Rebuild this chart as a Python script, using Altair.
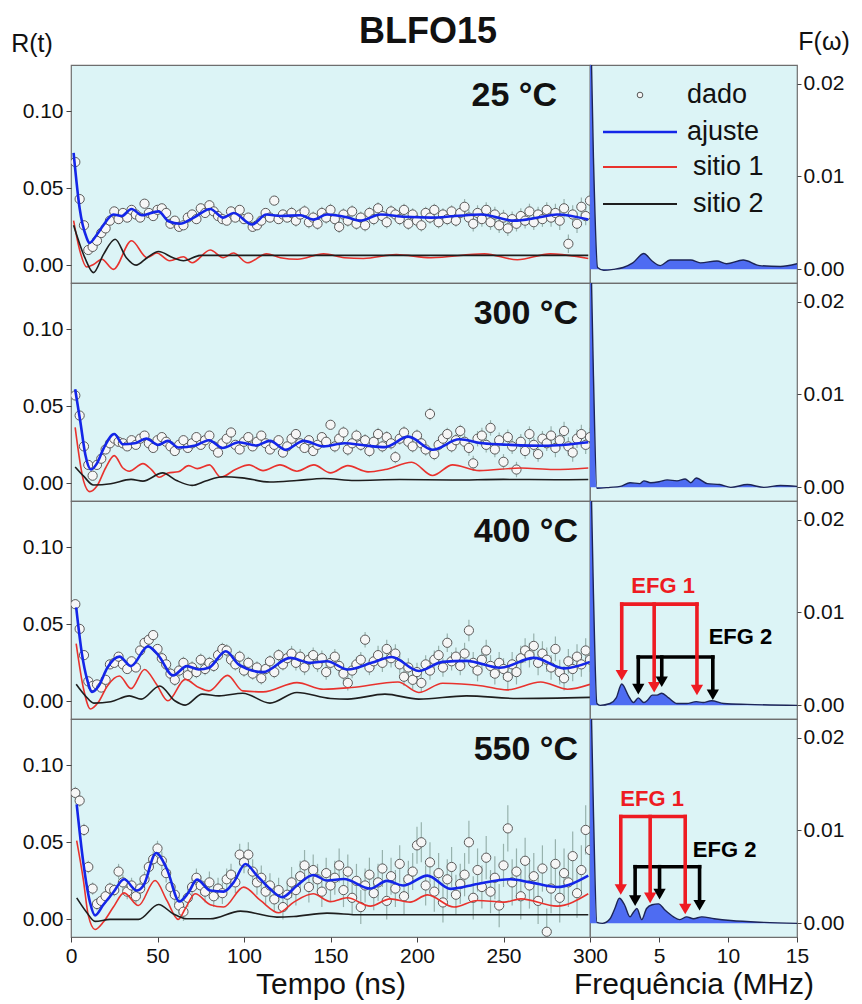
import altair as alt
import pandas as pd

# ---------------- data ----------------
T_DATA = [2.5 * (i + 1) for i in range(120)]  # sampling times (ns)

D25 = [0.067, 0.043, 0.026, 0.010, 0.012, 0.016, 0.021, 0.024, 0.029, 0.035,
       0.030, 0.034, 0.031, 0.036, 0.033, 0.031, 0.040, 0.034, 0.032, 0.036,
       0.037, 0.034, 0.027, 0.029, 0.025, 0.026, 0.031, 0.033, 0.030, 0.037,
       0.034, 0.039, 0.035, 0.032, 0.030, 0.029, 0.035, 0.031, 0.036, 0.030,
       0.031, 0.025, 0.026, 0.029, 0.034, 0.031, 0.042, 0.030, 0.033, 0.031,
       0.034, 0.029, 0.033, 0.035, 0.028, 0.031, 0.027, 0.034, 0.031, 0.036,
       0.030, 0.025, 0.033, 0.029, 0.035, 0.027, 0.031, 0.026, 0.034, 0.030,
       0.037, 0.032, 0.028, 0.035, 0.033, 0.030, 0.036, 0.027, 0.033, 0.029,
       0.026, 0.034, 0.031, 0.036, 0.028, 0.033, 0.030, 0.035, 0.029, 0.034,
       0.038, 0.031, 0.027, 0.034, 0.030, 0.036, 0.028, 0.033, 0.026, 0.031,
       0.024, 0.030, 0.027, 0.032, 0.029, 0.035, 0.028, 0.033, 0.030, 0.036,
       0.031, 0.034, 0.029, 0.037, 0.014, 0.033, 0.027, 0.038, 0.032, 0.042]
D300 = [0.057, 0.044, 0.024, 0.012, 0.005, 0.012, 0.016, 0.022, 0.026, 0.029,
        0.027, 0.026, 0.024, 0.028, 0.025, 0.029, 0.031, 0.026, 0.023, 0.028,
        0.030, 0.027, 0.024, 0.021, 0.025, 0.028, 0.023, 0.026, 0.030, 0.025,
        0.028, 0.031, 0.024, 0.020, 0.026, 0.029, 0.033, 0.025, 0.022, 0.027,
        0.030, 0.024, 0.027, 0.031, 0.026, 0.022, 0.025, 0.028, 0.020, 0.024,
        0.029, 0.032, 0.026, 0.023, 0.028, 0.021, 0.025, 0.030, 0.027, 0.038,
        0.024, 0.029, 0.033, 0.022, 0.026, 0.031, 0.025, 0.028, 0.021, 0.027,
        0.032, 0.024, 0.030, 0.026, 0.017, 0.029, 0.033, 0.027, 0.024, 0.031,
        0.026, 0.022, 0.045, 0.019, 0.025, 0.029, 0.032, 0.024, 0.028, 0.034,
        0.027, 0.023, 0.013, 0.029, 0.031, 0.025, 0.036, 0.022, 0.028, 0.014,
        0.030, 0.024, 0.009, 0.027, 0.021, 0.032, 0.025, 0.019, 0.029, 0.026,
        0.031, 0.023, 0.028, 0.034, 0.024, 0.020, 0.029, 0.032, 0.025, 0.030]
D400 = [0.063, 0.047, 0.030, 0.013, 0.010, 0.011, 0.009, 0.014, 0.024, 0.025,
        0.029, 0.024, 0.021, 0.026, 0.022, 0.033, 0.038, 0.040, 0.043, 0.034,
        0.028, 0.024, 0.018, 0.014, 0.020, 0.025, 0.017, 0.022, 0.019, 0.027,
        0.021, 0.025, 0.023, 0.030, 0.034, 0.033, 0.027, 0.024, 0.029, 0.020,
        0.025, 0.018, 0.022, 0.015, 0.021, 0.026, 0.019, 0.030, 0.024, 0.028,
        0.031, 0.025, 0.029, 0.022, 0.027, 0.030, 0.024, 0.028, 0.019, 0.025,
        0.029, 0.023, 0.018, 0.012, 0.020, 0.024, 0.027, 0.040, 0.022, 0.026,
        0.030, 0.025, 0.034, 0.028, 0.031, 0.024, 0.016, 0.022, 0.014, 0.019,
        0.012, 0.024, 0.020, 0.027, 0.030, 0.022, 0.038, 0.026, 0.029, 0.023,
        0.031, 0.046, 0.025, 0.020, 0.027, 0.033, 0.023, 0.018, 0.025, 0.021,
        0.016, 0.024, 0.019, 0.028, 0.033, 0.030, 0.036, 0.025, 0.031, 0.027,
        0.022, 0.034, 0.019, 0.015, 0.026, 0.021, 0.029, 0.024, 0.033, 0.027]
D550 = [0.082, 0.077, 0.058, 0.034, 0.020, 0.010, 0.012, 0.015, 0.020, 0.019,
        0.031, 0.024, 0.018, 0.022, 0.015, 0.020, 0.026, 0.034, 0.039, 0.046,
        0.038, 0.030, 0.021, 0.016, 0.009, 0.005, 0.014, 0.021, 0.027, 0.022,
        0.018, 0.024, 0.015, 0.020, 0.017, 0.026, 0.029, 0.024, 0.042, 0.037,
        0.042, 0.031, 0.024, 0.027, 0.018, 0.022, 0.013, 0.019, 0.008, 0.016,
        0.024, 0.019, 0.028, 0.035, 0.021, 0.032, 0.026, 0.018, 0.030, 0.022,
        0.027, 0.035, 0.019, 0.031, 0.014, 0.025, 0.008, 0.022, 0.029, 0.017,
        0.024, 0.033, 0.012, 0.028, 0.020, 0.036, 0.015, 0.026, 0.031, 0.048,
        0.050, 0.022, 0.037, 0.018, 0.030, 0.011, 0.026, 0.034, 0.016, 0.023,
        0.029, 0.050, 0.014, 0.032, 0.021, 0.040, 0.018, 0.027, 0.009, 0.035,
        0.059, 0.024, 0.031, 0.015, 0.038, 0.022, 0.028, 0.012, 0.033, -0.008,
        0.020, 0.036, 0.014, 0.030, 0.024, 0.041, 0.017, 0.032, 0.058, 0.045]

# error-bar half widths, one per 25 ns band
E25 = [0.003, 0.003, 0.003, 0.003, 0.003, 0.004, 0.004, 0.004, 0.004, 0.005, 0.005, 0.006]
E300 = [0.002, 0.002, 0.003, 0.003, 0.003, 0.003, 0.004, 0.004, 0.004, 0.005, 0.005, 0.006]
E400 = [0.003, 0.003, 0.004, 0.004, 0.004, 0.005, 0.005, 0.006, 0.006, 0.007, 0.008, 0.008]
E550 = [0.004, 0.005, 0.006, 0.007, 0.008, 0.010, 0.011, 0.012, 0.013, 0.014, 0.015, 0.016]

# fitted curves (ajuste = blue, sitio 1 = red, sitio 2 = black)
B25_T = [1.5, 5, 9, 10.6, 15, 18.7, 24.5, 29.3, 35, 41, 50.6, 56.4, 63, 71, 80.5, 88, 94, 104.6, 113, 121,
         132.6, 140, 148, 160, 167, 179, 193, 208, 222, 237, 256, 270, 281, 299]
B25_V = [0.073, 0.037, 0.018, 0.0146, 0.020, 0.026, 0.033, 0.032, 0.0366, 0.0325, 0.035, 0.0286, 0.027, 0.031,
         0.0366, 0.031, 0.034, 0.0265, 0.033, 0.032, 0.0325, 0.0297, 0.033, 0.031, 0.029, 0.033, 0.0315, 0.031,
         0.032, 0.033, 0.029, 0.031, 0.033, 0.0297]
R25_T = [1.5, 5, 9, 13, 17.8, 24.5, 35, 44, 49.6, 57, 65, 70, 80.5, 88, 94, 102, 113, 121, 131, 146, 158, 169,
         188, 208, 239, 258, 277, 299]
R25_V = [0.029, 0.010, -0.001, 0.0006, 0.004, -0.0026, 0.016, 0.005, 0.008, 0.003, 0.0056, 0.0017, 0.010, 0.005,
         0.008, 0.0017, 0.0075, 0.005, 0.004, 0.0075, 0.005, 0.0045, 0.007, 0.005, 0.0075, 0.0037, 0.0075, 0.0045]
K25_T = [1.5, 8, 13, 18.7, 25.5, 32, 37.6, 44, 50.6, 59, 65, 75, 100, 150, 200, 250, 299]
K25_V = [0.026, 0.005, -0.0047, 0.007, 0.017, 0.005, 0.0002, 0.005, 0.009, 0.005, 0.003, 0.0065, 0.0065, 0.0065,
         0.0065, 0.0065, 0.0065]

B300_T = [2.4, 5.4, 8.3, 11.6, 15, 19, 25, 30, 36.7, 43.5, 50.4, 56, 62, 72, 79.7, 87.6, 97, 107, 115, 124,
          134.5, 146, 158, 170, 181.5, 195, 209, 224.5, 238, 254, 273.5, 299]
B300_V = [0.061, 0.040, 0.0186, 0.009, 0.013, 0.023, 0.032, 0.0254, 0.026, 0.029, 0.025, 0.0276, 0.0233, 0.0246,
          0.028, 0.023, 0.0267, 0.0246, 0.0276, 0.0218, 0.0276, 0.024, 0.026, 0.0246, 0.0235, 0.0303, 0.0218,
          0.0286, 0.026, 0.025, 0.0244, 0.0267]
R300_T = [2.4, 7.3, 10.8, 15, 20, 25, 30, 33.7, 41.6, 46.5, 51, 56, 62, 68, 73, 80, 86.6, 95, 103, 111, 120.8,
          130.6, 140.4, 150, 160, 171.7, 181.5, 197, 209, 220.6, 236, 259.8, 279, 299]
R300_V = [0.0363, 0.0015, -0.0053, -0.0017, 0.010, 0.018, 0.010, 0.0079, 0.0128, 0.009, 0.004, 0.0068, 0.0075,
          0.0115, 0.0096, 0.012, 0.004, 0.009, 0.012, 0.0083, 0.012, 0.0079, 0.012, 0.0068, 0.0115, 0.0075, 0.009,
          0.0137, 0.0051, 0.012, 0.0083, 0.010, 0.009, 0.010]
K300_T = [2.4, 7.3, 13, 23, 34.7, 41.6, 53, 61, 70, 77.8, 87.6, 99, 115, 130.6, 146, 164, 190, 220, 250, 280, 299]
K300_V = [0.0107, 0.0047, -0.001, -0.0002, 0.0026, 0.0015, 0.0068, 0.0019, -0.0013, 0.0015, 0.0043, 0.0036,
          0.0009, 0.0019, 0.0032, 0.0019, 0.0025, 0.0022, 0.0026, 0.0024, 0.0025]

B400_T = [3, 6.3, 9.3, 12.2, 16, 21, 28, 34.7, 44.5, 50.4, 59, 67, 73.9, 79.7, 89.5, 97, 111, 126.7, 138.4, 148,
          160, 173.7, 185.4, 201, 214.8, 228.5, 248, 267.6, 285, 300]
B400_V = [0.061, 0.031, 0.0143, 0.0062, 0.010, 0.0218, 0.029, 0.0229, 0.0357, 0.030, 0.0169, 0.0229, 0.0207,
          0.0218, 0.0325, 0.0239, 0.019, 0.0282, 0.025, 0.026, 0.0207, 0.025, 0.0288, 0.0197, 0.0256, 0.0263,
          0.0218, 0.0282, 0.0214, 0.0256]
R400_T = [3, 7.3, 11.2, 16, 21, 28, 34.7, 42.5, 49.4, 56, 66, 73.9, 79.7, 90.5, 99.3, 111, 130.6, 146, 162, 189,
          201, 214.8, 238, 252, 271.5, 287, 300]
R400_V = [0.0374, 0.0079, -0.0049, -0.0002, 0.010, 0.0165, 0.0083, 0.0207, 0.0111, 0.0004, 0.0143, 0.009, 0.0068,
          0.0169, 0.0068, 0.0062, 0.0122, 0.0079, 0.009, 0.0126, 0.0058, 0.0118, 0.010, 0.0075, 0.0126, 0.0079,
          0.0111]
K400_T = [3, 8.3, 13.2, 23, 33.7, 40.6, 51.3, 60, 66, 75.8, 85.6, 99.3, 115, 130.6, 150, 160, 181.5, 201, 228.5,
          258, 300]
K400_V = [0.0111, 0.0036, -0.0011, -0.0002, 0.0036, 0.0015, 0.010, 0.0004, -0.0024, 0.0047, 0.0036, 0.0053,
          -0.0011, 0.0058, 0.0019, 0.0015, 0.0047, 0.0015, 0.0036, 0.0019, 0.0026]

B550_T = [3.3, 7.1, 11, 13.9, 18.7, 24.5, 30.7, 38, 41.9, 49.2, 55.4, 62.7, 68, 72.8, 80.5, 88.2, 94, 100.8,
          107.5, 115, 122, 130.7, 140, 148, 157.7, 173, 182.6, 192, 206, 219.4, 235, 254, 265.6, 281, 299]
B550_V = [0.0746, 0.037, 0.011, 0.0026, 0.0095, 0.0176, 0.026, 0.0187, 0.022, 0.043, 0.0327, 0.0116, 0.0176,
          0.0258, 0.0187, 0.018, 0.024, 0.0359, 0.0284, 0.0198, 0.0144, 0.022, 0.0288, 0.0252, 0.0262, 0.020,
          0.025, 0.022, 0.0284, 0.0198, 0.023, 0.026, 0.024, 0.021, 0.0284]
R550_T = [3.3, 7.1, 10, 13.9, 18.7, 24.5, 30.7, 39, 48.6, 55.4, 62, 66, 71.8, 80.5, 88.2, 99.8, 109.5, 120,
          128.8, 140, 150, 159.7, 173, 184.5, 196, 206, 221.4, 235, 250.4, 260, 281, 299]
R550_V = [0.051, 0.026, 0.0026, -0.0065, -0.0017, 0.008, 0.0172, 0.009, 0.0252, 0.0123, 0.0, 0.0069, 0.0166,
          0.0095, 0.008, 0.0209, 0.0123, 0.0043, 0.0112, 0.0166, 0.0115, 0.014, 0.0086, 0.0133, 0.0112, 0.0159,
          0.008, 0.0123, 0.0112, 0.0133, 0.0086, 0.0166]
K550_T = [3.3, 9, 13.9, 22.6, 39, 50.6, 59, 67, 80.5, 97.9, 119, 128.8, 148, 167, 200, 250, 299]
K550_V = [0.014, 0.0047, -0.0013, 0.0, 0.0, 0.0097, 0.0037, 0.0004, 0.0004, 0.0054, 0.0015, 0.0019, 0.0041,
          0.003, 0.003, 0.003, 0.003]

# Fourier spectra F(w)
F25_F = [0, 0.25, 0.55, 1.0, 1.7, 2.4, 3.1, 3.9, 4.5, 5.1, 5.8, 6.5, 7.3, 8.0, 9.2, 9.9, 11.1, 12.3, 13.8, 15]
F25_A = [0.030, 0.012, 0.0002, -0.0001, 0.0, 0.0002, 0.0007, 0.0017, 0.0009, 0.0004, 0.001, 0.001, 0.001, 0.0007,
         0.0009, 0.0006, 0.001, 0.0004, 0.0003, 0.0006]
F300_F = [0, 0.25, 0.5, 1.45, 2.2, 2.9, 3.6, 3.9, 4.4, 5.0, 5.6, 6.3, 6.9, 7.3, 7.7, 8.5, 9.4, 10.2, 11.4, 12.6,
          13.8, 15]
F300_A = [0.030, 0.012, -0.0001, 0.0, 0.0001, 0.0005, 0.0004, 0.0007, 0.0005, 0.0006, 0.0008, 0.0007, 0.0009,
          0.0005, 0.001, 0.0004, 0.0003, 0.0, 0.0003, 0.0, 0.0002, 0.0001]
F400_F = [0, 0.25, 0.5, 0.73, 1.45, 1.9, 2.3, 2.8, 3.15, 3.5, 3.9, 4.2, 4.5, 4.85, 5.2, 5.7, 6.3, 7.0, 7.7, 8.2,
          8.8, 9.7, 11.4, 15]
F400_A = [0.030, 0.012, 0.0002, 0.0, 0.0002, 0.0008, 0.0023, 0.001, 0.0003, 0.0008, 0.0003, 0.0006, 0.0011,
          0.0011, 0.0013, 0.0008, 0.0002, 0.0002, 0.0004, 0.0003, 0.0005, 0.0002, 0.0001, 0.0]
F550_F = [0, 0.25, 0.5, 0.9, 1.45, 1.8, 2.13, 2.5, 2.9, 3.15, 3.4, 3.75, 4.1, 4.5, 4.96, 5.45, 6.05, 6.5, 7.0,
          7.5, 8.1, 9.0, 10.2, 12.6, 15]
F550_A = [0.030, 0.012, 0.0001, 0.0, 0.0005, 0.0016, 0.0027, 0.002, 0.0007, 0.0012, 0.0016, 0.0004, 0.0016,
          0.002, 0.0021, 0.0014, 0.0007, 0.0004, 0.0007, 0.0005, 0.0007, 0.0005, 0.0003, 0.0001, 0.0]

# EFG arrows: frequencies, arrow tips, bar level, label position
EFG400 = {"f1": [2.3, 4.65, 7.75], "tip1": [0.0026, 0.0013, 0.0010], "bar1": 0.0109,
          "f2": [3.5, 5.2, 8.9], "tip2": [0.0011, 0.0019, 0.0005], "bar2": 0.0052,
          "lab1": (5.3, 0.0129), "lab2": (8.6, 0.0074)}
EFG550 = {"f1": [2.23, 4.36, 6.9], "tip1": [0.0030, 0.0021, 0.0009], "bar1": 0.0115,
          "f2": [3.27, 5.04, 7.94], "tip2": [0.0018, 0.0025, 0.0013], "bar2": 0.0061,
          "lab1": (4.5, 0.0134), "lab2": (7.45, 0.0079)}

TEMPS = ["25 °C", "300 °C", "400 °C", "550 °C"]

PANELS = [
    dict(label=TEMPS[0], data=D25, err=E25, fit=(B25_T, B25_V), s1=(R25_T, R25_V), s2=(K25_T, K25_V),
         ff=F25_F, fa=F25_A, efg=None, lab_dx=33),
    dict(label=TEMPS[1], data=D300, err=E300, fit=(B300_T, B300_V), s1=(R300_T, R300_V), s2=(K300_T, K300_V),
         ff=F300_F, fa=F300_A, efg=None, lab_dx=12),
    dict(label=TEMPS[2], data=D400, err=E400, fit=(B400_T, B400_V), s1=(R400_T, R400_V), s2=(K400_T, K400_V),
         ff=F400_F, fa=F400_A, efg=EFG400, lab_dx=12),
    dict(label=TEMPS[3], data=D550, err=E550, fit=(B550_T, B550_V), s1=(R550_T, R550_V), s2=(K550_T, K550_V),
         ff=F550_F, fa=F550_A, efg=EFG550, lab_dx=12),
]

# ---------------- styling ----------------
FONT = "Liberation Sans"
BG = "#dcf4f6"
FRAME = "#6e6e6e"
BLUE = "#1426e8"
RED = "#e8322d"
BLACK = "#1e1e1e"
AREA = "#4e6cf2"
AREA_LINE = "#1c2456"
ERRC = "#97b2ad"
ARED = "#ee1b22"
W, WR, H = 519, 207, 218
YDOM_L = [-0.0114, 0.1299]
YDOM_R = [-0.00147, 0.0220]
LAB = 21
TIT = 30


def one(text):
    return pd.DataFrame({"s": [text]})


def axis(**kw):
    base = dict(labelFont=FONT, titleFont=FONT, labelFontSize=LAB, titleFontSize=TIT, titleFontWeight="normal",
                labelFontWeight="normal", labelColor="#111", titleColor="#111", tickColor="#444", grid=False,
                domain=False, labelOverlap=False, labelFlush=False, tickSize=5, labelPadding=3)
    base.update(kw)
    return alt.Axis(**base)


def left_panel(k):
    P = PANELS[k]
    bottom = k == 3
    xs = alt.Scale(domain=[0, 300], nice=False, zero=False)
    ys = alt.Scale(domain=YDOM_L, nice=False, zero=False)
    xa = axis(values=[0, 50, 100, 150, 200, 250, 300], title="Tempo (ns)", titlePadding=3) if bottom else None
    ya = axis(values=[0, 0.05, 0.10], format=".2f", title=None)

    def X(f):
        return alt.X(f, type="quantitative", scale=xs, axis=xa)

    def Y(f):
        return alt.Y(f, type="quantitative", scale=ys, axis=ya)

    err = [P["err"][min(i // 10, 11)] for i in range(len(T_DATA))]
    d = pd.DataFrame({"t": T_DATA, "v": P["data"], "e": err})
    d["lo"] = d["v"] - d["e"]
    d["hi"] = d["v"] + d["e"]

    bars = alt.Chart(d).mark_rule(color=ERRC, strokeWidth=1.2, clip=True).encode(
        x=X("t"), y=Y("lo"), y2="hi")
    pts = alt.Chart(d).mark_circle(size=85, fill="#f6f6f6", stroke="#5a5a5a", strokeWidth=1,
                                   opacity=1, clip=True).encode(x=X("t"), y=Y("v"))

    def curve(TV, color, sw):
        return alt.Chart(pd.DataFrame({"t": TV[0], "v": TV[1]})).mark_line(
            color=color, strokeWidth=sw, interpolate="monotone", clip=True).encode(x=X("t"), y=Y("v"))

    lab = alt.Chart(one(P["label"])).mark_text(
        font=FONT, fontSize=34, fontWeight="bold", align="right", baseline="middle", color="#111"
    ).encode(text="s:N", x=alt.value(W - P["lab_dx"]), y=alt.value(31))

    layers = [bars, pts, curve(P["s1"], RED, 1.6), curve(P["s2"], BLACK, 1.6), curve(P["fit"], BLUE, 2.6), lab]
    if k == 0:
        layers.append(alt.Chart(one("BLFO15")).mark_text(
            font=FONT, fontSize=36, fontWeight="bold", align="center", baseline="middle", color="#111"
        ).encode(text="s:N", x=alt.value(357), y=alt.value(-33)))
        layers.append(alt.Chart(one("R(t)")).mark_text(
            font=FONT, fontSize=25, align="center", baseline="middle", color="#111"
        ).encode(text="s:N", x=alt.value(-39), y=alt.value(-21)))
    return alt.layer(*layers).properties(width=W, height=H)


def right_panel(k):
    P = PANELS[k]
    bottom = k == 3
    xs = alt.Scale(domain=[0, 15], nice=False, zero=False)
    ys = alt.Scale(domain=YDOM_R, nice=False, zero=False)
    xa = axis(values=[5, 10, 15], title="Frequência (MHz)", titlePadding=3) if bottom else None
    ya = axis(orient="right", values=[0, 0.01, 0.02], format=".2f", title=None, tickSize=4, labelPadding=2)

    def X(f):
        return alt.X(f, type="quantitative", scale=xs, axis=xa)

    def Y(f):
        return alt.Y(f, type="quantitative", scale=ys, axis=ya)

    d = pd.DataFrame({"f": P["ff"], "a": P["fa"]})
    area = alt.Chart(d).mark_area(color=AREA, opacity=1, interpolate="monotone", clip=True).encode(
        x=X("f"), y=Y("a"), y2=alt.value(H))
    edge = alt.Chart(d).mark_line(color=AREA_LINE, strokeWidth=1.4, interpolate="monotone", clip=True).encode(
        x=X("f"), y=Y("a"))
    layers = [area, edge]

    E = P["efg"]
    if E is not None:
        rows = []
        for f, tip in zip(E["f1"], E["tip1"]):
            rows.append({"f": f, "tip": tip, "bar": E["bar1"], "g": "EFG 1"})
        for f, tip in zip(E["f2"], E["tip2"]):
            rows.append({"f": f, "tip": tip, "bar": E["bar2"], "g": "EFG 2"})
        da = pd.DataFrame(rows)
        col = alt.Color("g:N", scale=alt.Scale(domain=["EFG 1", "EFG 2"], range=[ARED, "#000000"]), legend=None)
        horiz = alt.Chart(da).transform_aggregate(
            lo="min(f)", hi="max(f)", bar="max(bar)", groupby=["g"]
        ).mark_rule(strokeWidth=3.6, strokeCap="square").encode(
            x=X("lo"), x2="hi", y=Y("bar"), color=col)
        vert = alt.Chart(da).mark_rule(strokeWidth=3.6, strokeCap="square", y2Offset=-8).encode(
            x=X("f"), y=Y("bar"), y2="tip", color=col)
        heads = alt.Chart(da).mark_point(shape="triangle-down", filled=True, size=150, opacity=1,
                                         yOffset=-6).encode(x=X("f"), y=Y("tip"), color=col)
        t1 = alt.Chart(pd.DataFrame({"s": ["EFG 1"], "f": [E["lab1"][0]], "a": [E["lab1"][1]]})).mark_text(
            font=FONT, fontSize=22, fontWeight="bold", color=ARED, align="center", baseline="middle"
        ).encode(text="s:N", x=X("f"), y=Y("a"))
        t2 = alt.Chart(pd.DataFrame({"s": ["EFG 2"], "f": [E["lab2"][0]], "a": [E["lab2"][1]]})).mark_text(
            font=FONT, fontSize=22, fontWeight="bold", color="#000000", align="left", baseline="middle"
        ).encode(text="s:N", x=X("f"), y=Y("a"))
        layers += [horiz, vert, heads, t1, t2]

    if k == 0:
        layers.append(alt.Chart(one("F(ω)")).mark_text(
            font=FONT, fontSize=25, align="center", baseline="middle", color="#111"
        ).encode(text="s:N", x=alt.value(234), y=alt.value(-23)))
        # legend
        layers.append(alt.Chart(one("o")).mark_circle(
            size=32, fill="#f6f6f6", stroke="#555", strokeWidth=1, opacity=1
        ).encode(x=alt.value(50), y=alt.value(30)))
        for color, sw, yy in [(BLUE, 2.6, 67), (RED, 1.8, 102), (BLACK, 1.8, 139)]:
            layers.append(alt.Chart(one("l")).mark_rule(color=color, strokeWidth=sw).encode(
                x=alt.value(13), x2=alt.value(87), y=alt.value(yy)))
        for txt, xx, yy in [("dado", 97, 30), ("ajuste", 97, 67), ("sitio 1", 103, 102), ("sitio 2", 103, 139)]:
            layers.append(alt.Chart(one(txt)).mark_text(
                font=FONT, fontSize=27, align="left", baseline="middle", color="#111"
            ).encode(text="s:N", x=alt.value(xx), y=alt.value(yy)))
    return alt.layer(*layers).properties(width=WR, height=H)


panels = []
for k in range(4):
    panels.append(left_panel(k))
    panels.append(right_panel(k))

chart = alt.concat(*panels, columns=2, spacing=0, bounds="flush").properties(
    padding={"left": 2, "right": 0, "top": 5, "bottom": 0}, background="white"
).configure_view(
    stroke=FRAME, strokeWidth=1.2, fill=BG
)

chart.save("out.html", embed_options={"renderer": "svg", "actions": False})
